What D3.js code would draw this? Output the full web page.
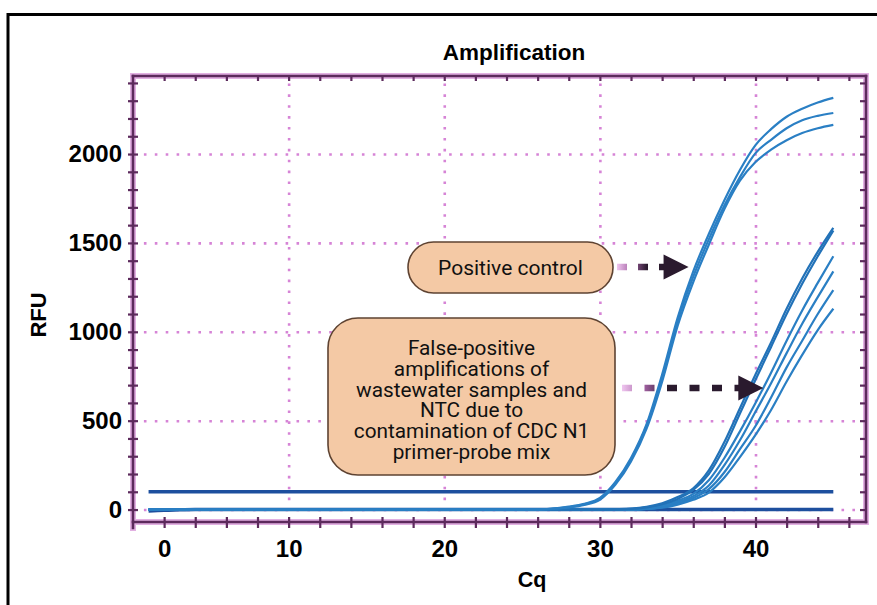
<!DOCTYPE html>
<html><head><meta charset="utf-8">
<script src="https://cdn.jsdelivr.net/npm/d3@7"></script>
<style>body{margin:0;background:#fff}</style></head>
<body><svg id="c" width="877" height="605"></svg>
<script>
// ---------- DATA ----------
const cycles = [1,2,3,4,5,6,7,8,9,10,11,12,13,14,15,16,17,18,19,20,21,22,23,24,25,26,27,28,29,30,31,32,33,34,35,36,37,38,39,40,41,42,43,44,45];
// positive control (3 replicates)
const pos1 = [0,0,0,0,0,0,0,0,0,0,0,0,0,0,0,0,0,0,0,0,0,0,0,0,0,0,6,16,32,65,155,290,480,760,1080,1340,1550,1740,1910,2050,2140,2210,2255,2290,2316];
const pos2 = [0,0,0,0,0,0,0,0,0,0,0,0,0,0,0,0,0,0,0,0,0,0,0,0,0,0,5,14,30,60,150,280,470,740,1060,1310,1520,1710,1870,2005,2080,2145,2190,2215,2231];
const pos3 = [0,0,0,0,0,0,0,0,0,0,0,0,0,0,0,0,0,0,0,0,0,0,0,0,0,0,4,12,26,55,140,270,455,720,1035,1280,1490,1690,1850,1955,2025,2078,2118,2145,2164];
// false-positive wastewater samples and NTC
const fpA = [0,0,0,0,0,0,0,0,0,0,0,0,0,0,0,0,0,0,0,0,0,0,0,0,0,0,0,0,0,0,2,5,15,35,70,120,220,380,570,760,940,1130,1300,1450,1585];
const fpB = [0,0,0,0,0,0,0,0,0,0,0,0,0,0,0,0,0,0,0,0,0,0,0,0,0,0,0,0,0,0,0,4,12,30,60,110,200,350,540,730,915,1100,1270,1425,1570];
const fpC = [0,0,0,0,0,0,0,0,0,0,0,0,0,0,0,0,0,0,0,0,0,0,0,0,0,0,0,0,0,0,0,0,8,22,50,88,165,290,440,600,770,950,1120,1275,1425];
const fpD = [0,0,0,0,0,0,0,0,0,0,0,0,0,0,0,0,0,0,0,0,0,0,0,0,0,0,0,0,0,0,0,0,5,18,42,75,135,250,390,550,710,880,1045,1195,1340];
const fpE = [0,0,0,0,0,0,0,0,0,0,0,0,0,0,0,0,0,0,0,0,0,0,0,0,0,0,0,0,0,0,0,0,4,14,35,65,115,210,340,470,630,800,950,1100,1235];
const fpF = [0,0,0,0,0,0,0,0,0,0,0,0,0,0,0,0,0,0,0,0,0,0,0,0,0,0,0,0,0,0,0,0,3,10,28,55,95,180,295,420,560,720,870,1010,1130];
// negative traces (flat) and threshold
const negative = [-8,-4,-2,0,0,0,0,0,0,0,0,0,0,0,0,0,0,0,0,0,0,0,0,0,0,0,0,0,0,0,0,0,0,0,0,0,0,0,0,0,0,0,0,0,0];
const threshold = [100,100,100,100,100,100,100,100,100,100,100,100,100,100,100,100,100,100,100,100,100,100,100,100,100,100,100,100,100,100,100,100,100,100,100,100,100,100,100,100,100,100,100,100,100];

const yLabelValues = [0,500,1000,1500,2000];
const yMinorTicks = [0,100,200,300,400,500,600,700,800,900,1000,1100,1200,1300,1400,1500,1600,1700,1800,1900,2000,2100,2200,2300,2400];
const xGridValues = [10,20,30,40];
const xMinorTicks = [2,4,6,8,10,12,14,16,18,20,22,24,26,28,30,32,34,36,38,40,42,44,46];
const xLabelAt = [2,10,20,30,40];
const xLabelText = ["0","10","20","30","40"];
const arrowTips = [{c:35.7, rfu:1365}, {c:40.5, rfu:684}];

// ---------- CHART ----------
const svg = d3.select('#c');
const L=133, R=866, T=76, B=522;
const x = d3.scaleLinear().domain([0,47.1]).range([L,R]);
const y = d3.scaleLinear().domain([-70,2439]).range([B,T]);

svg.append('rect').attr('x',8).attr('y',14.5).attr('width',1000).attr('height',800)
  .attr('fill','none').attr('stroke','#000').attr('stroke-width',3);

// grid
const gridCol = '#d684d6';
const gy = svg.append('g').attr('transform',`translate(${L},0)`)
  .call(d3.axisLeft(y).tickValues(yLabelValues).tickSize(-(R-L)).tickFormat(''));
gy.select('.domain').remove();
gy.selectAll('line').attr('stroke',gridCol).attr('stroke-width',2.6).attr('stroke-dasharray','2.6,8.3');
const gx = svg.append('g').attr('transform',`translate(0,${B})`)
  .call(d3.axisBottom(x).tickValues(xGridValues).tickSize(-(B-T)).tickFormat(''));
gx.select('.domain').remove();
gx.selectAll('line').attr('stroke',gridCol).attr('stroke-width',2.6).attr('stroke-dasharray','2.6,8.3');

// data lines
const line = d3.line().x((d,i)=>x(cycles[i])).y(d=>y(d)).curve(d3.curveMonotoneX);
const flatCol = '#1d4f9e', curveCol = '#2a7fc4';
[threshold, negative].forEach(s=>{
  svg.append('path').attr('d',line(s)).attr('fill','none').attr('stroke',flatCol).attr('stroke-width',3.4);
});
[fpF,fpE,fpD,fpC,fpB,fpA].forEach((s,i)=>{
  svg.append('path').attr('d',line(s)).attr('fill','none').attr('stroke', i>=4 ? '#2272b8' : curveCol).attr('stroke-width',2.2);
});
[pos3,pos2,pos1].forEach(s=>{
  svg.append('path').attr('d',line(s)).attr('fill','none').attr('stroke',curveCol).attr('stroke-width',2.2);
});

// axes frame
const axCol = '#5c2a5c', glow = '#e2b0e2';
const frameLines = [[L,T,R,T],[R,T,R,B],[L,B,R,B],[L,T,L,B+6]];
frameLines.forEach(f=>svg.append('line').attr('x1',f[0]).attr('y1',f[1]).attr('x2',f[2]).attr('y2',f[3])
  .attr('stroke',glow).attr('stroke-width',6).attr('stroke-linecap','square'));
frameLines.forEach(f=>svg.append('line').attr('x1',f[0]).attr('y1',f[1]).attr('x2',f[2]).attr('y2',f[3])
  .attr('stroke',axCol).attr('stroke-width',2.6).attr('stroke-linecap','square'));

function styleTicks(g){ g.select('.domain').remove(); g.selectAll('line').attr('stroke',axCol).attr('stroke-width',2.2); }
const la = svg.append('g').attr('transform',`translate(${L},0)`).call(d3.axisLeft(y).tickValues(yMinorTicks).tickSize(5).tickFormat(''));
styleTicks(la); la.selectAll('line').attr('x1',5);
const ra = svg.append('g').attr('transform',`translate(${R},0)`).call(d3.axisLeft(y).tickValues(yMinorTicks).tickSize(6).tickFormat(''));
styleTicks(ra);
const ba = svg.append('g').attr('transform',`translate(0,${B})`).call(d3.axisBottom(x).tickValues(xMinorTicks).tickSize(6).tickFormat(''));
styleTicks(ba); ba.selectAll('line').attr('y1',-5);
const ta = svg.append('g').attr('transform',`translate(0,${T})`).call(d3.axisBottom(x).tickValues(xMinorTicks).tickSize(5).tickFormat(''));
styleTicks(ta);

// tick labels
const font = "'Liberation Sans', Arial, sans-serif";
const yl = svg.append('g').attr('transform',`translate(${L},0)`)
  .call(d3.axisLeft(y).tickValues(yLabelValues).tickSize(0).tickPadding(11).tickFormat(d3.format('d')));
yl.select('.domain').remove();
yl.selectAll('text').attr('font-family',font).attr('font-weight','bold').attr('font-size',24).attr('fill','#000');
const xl = svg.append('g').attr('transform',`translate(0,${B})`)
  .call(d3.axisBottom(x).tickValues(xLabelAt).tickSize(0).tickPadding(18).tickFormat((d,i)=>xLabelText[i]));
xl.select('.domain').remove();
xl.selectAll('text').attr('font-family',font).attr('font-weight','bold').attr('font-size',24).attr('fill','#000');

// titles
svg.append('text').attr('x',514).attr('y',60).attr('text-anchor','middle').attr('font-family',font)
  .attr('font-weight','bold').attr('font-size',22.5).text('Amplification');
svg.append('text').attr('transform','translate(46,315) rotate(-90)').attr('text-anchor','middle').attr('font-family',font)
  .attr('font-weight','bold').attr('font-size',22).text('RFU');
svg.append('text').attr('x',532).attr('y',587).attr('text-anchor','middle').attr('font-family',font)
  .attr('font-weight','bold').attr('font-size',21.5).text('Cq');

// annotation boxes
const boxFill = '#f4c9a5', boxStroke = '#5e4332';
const bf = "Roboto, 'Noto Sans', sans-serif";
svg.append('rect').attr('x',408).attr('y',242).attr('width',205).attr('height',51).attr('rx',25.5)
  .attr('fill',boxFill).attr('stroke',boxStroke).attr('stroke-width',1.6);
svg.append('text').attr('x',510.5).attr('y',275).attr('text-anchor','middle').attr('font-family',bf)
  .attr('font-size',21).attr('fill','#111').text('Positive control');
svg.append('rect').attr('x',328).attr('y',318).attr('width',287).attr('height',157).attr('rx',30)
  .attr('fill',boxFill).attr('stroke',boxStroke).attr('stroke-width',1.6);
const lines2 = ['False-positive','amplifications of','wastewater samples and','NTC due to','contamination of CDC N1','primer-probe mix'];
lines2.forEach((t,i)=>svg.append('text').attr('x',471.5).attr('y',355+i*20.8).attr('text-anchor','middle')
  .attr('font-family',bf).attr('font-size',20.8).attr('fill','#111').text(t));

// arrows
const defs = svg.append('defs');
const arrowStarts = [617, 622];
const gradLen = [30, 45];
arrowTips.forEach((a,i)=>{
  const tx = x(a.c), ty = y(a.rfu), sx = arrowStarts[i];
  const g = defs.append('linearGradient').attr('id','ag'+i).attr('gradientUnits','userSpaceOnUse')
    .attr('x1',sx).attr('x2',sx+gradLen[i]).attr('y1',0).attr('y2',0);
  g.append('stop').attr('offset',0).attr('stop-color','#f0c6f0');
  g.append('stop').attr('offset',0.5).attr('stop-color','#a060a0');
  g.append('stop').attr('offset',1).attr('stop-color','#2a1a2e');
  svg.append('line').attr('x1',sx).attr('x2',tx-22).attr('y1',ty).attr('y2',ty)
    .attr('stroke',`url(#ag${i})`).attr('stroke-width',6.5).attr('stroke-dasharray', i===0 ? '10,11' : '10,12.5');
  svg.append('path').attr('d',`M${tx-25},${ty-12.5}L${tx},${ty}L${tx-25},${ty+12.5}Z`).attr('fill','#2a1a2e');
});
</script></body></html>
